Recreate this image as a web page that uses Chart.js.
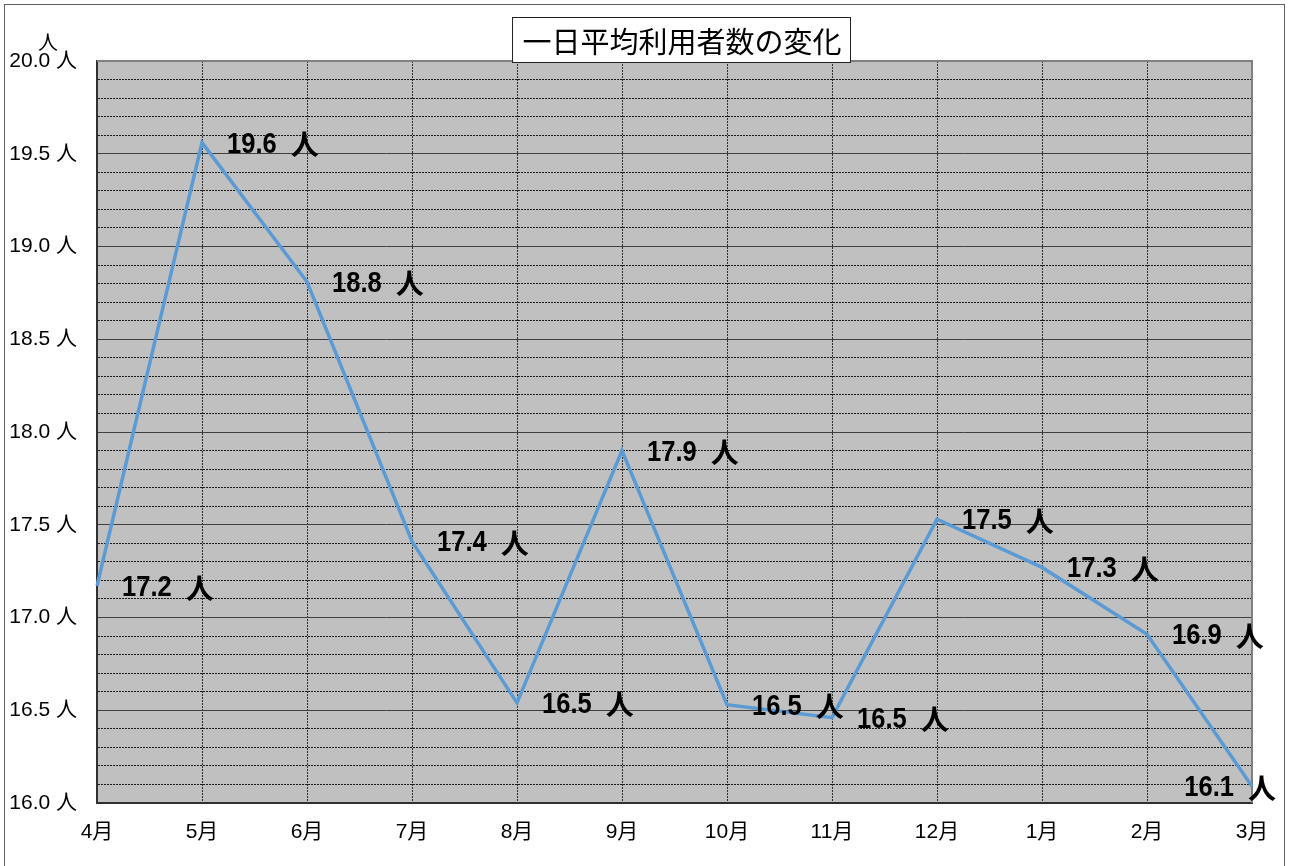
<!DOCTYPE html>
<html lang="ja">
<head>
<meta charset="utf-8">
<title>一日平均利用者数の変化</title>
<script src="https://cdn.jsdelivr.net/npm/chart.js@4/dist/chart.umd.min.js"></script>
<style>
  html, body { margin: 0; padding: 0; background: #ffffff; }
  canvas { display: block; }
</style>
</head>
<body>
<canvas id="chart" width="1290" height="866"></canvas>
<script>
// Monthly average of daily visitors (fiscal year, April to March)
const months = ['4月', '5月', '6月', '7月', '8月', '9月', '10月', '11月', '12月', '1月', '2月', '3月'];
const visitors = [17.17, 19.56, 18.81, 17.41, 16.54, 17.90, 16.53, 16.46, 17.53, 17.27, 16.91, 16.09];
const unit = '人';
const chartTitle = '一日平均利用者数の変化';
const yMin = 16.0;
const yMax = 20.0;
const yMajorStep = 0.5;
const yMinorStep = 0.1;

const latinCjk = '"Liberation Sans", "Noto Sans CJK JP", sans-serif';
const cjk = '"Noto Sans CJK JP", sans-serif';

function isMajor(v) {
  const r = v / yMajorStep;
  return Math.abs(r - Math.round(r)) < 1e-6;
}

// Gray plot background, outer frame, title box and axis unit
const decorations = {
  id: 'decorations',
  beforeDraw(chart) {
    const { ctx, chartArea: a } = chart;
    ctx.save();
    ctx.fillStyle = '#ffffff';
    ctx.fillRect(0, 0, chart.width, chart.height);
    ctx.fillStyle = '#c0c0c0';
    ctx.fillRect(a.left, a.top, a.right - a.left, a.bottom - a.top);
    ctx.restore();
  },
  beforeDatasetsDraw(chart) {
    const { ctx, chartArea: a } = chart;
    ctx.save();
    ctx.strokeStyle = '#808080';
    ctx.lineWidth = 2;
    ctx.beginPath();
    ctx.moveTo(a.left, a.top);
    ctx.lineTo(a.right, a.top);
    ctx.lineTo(a.right, a.bottom);
    ctx.stroke();
    ctx.restore();
  },
  afterDraw(chart) {
    const { ctx } = chart;
    ctx.save();
    // outer frame
    ctx.strokeStyle = '#606060';
    ctx.lineWidth = 1;
    ctx.strokeRect(4.5, 4.5, 1280, 870);
    // title box
    ctx.fillStyle = '#ffffff';
    ctx.fillRect(512, 17, 339, 46);
    ctx.strokeStyle = '#222222';
    ctx.strokeRect(512.5, 17.5, 338, 45);
    ctx.fillStyle = '#000000';
    ctx.font = '29px ' + cjk;
    ctx.textAlign = 'center';
    ctx.textBaseline = 'middle';
    ctx.fillText(chartTitle, 682, 42);
    // y-axis unit
    ctx.font = '20px ' + cjk;
    ctx.fillText(unit, 48, 42);
    ctx.restore();
  }
};

// Value labels beside each point: condensed number, then the unit
const valueLabels = {
  id: 'valueLabels',
  afterDatasetsDraw(chart) {
    const { ctx } = chart;
    const meta = chart.getDatasetMeta(0);
    const values = chart.data.datasets[0].data;
    const numFont = 'bold 29px ' + latinCjk;
    const unitFont = 'bold 28px ' + cjk;
    const squeeze = 0.88;
    const gap = 14;
    ctx.save();
    ctx.fillStyle = '#000000';
    ctx.textAlign = 'left';
    ctx.textBaseline = 'middle';
    meta.data.forEach((pt, i) => {
      const num = values[i].toFixed(1);
      ctx.font = numFont;
      const wNum = ctx.measureText(num).width * squeeze;
      ctx.font = unitFont;
      const wUnit = ctx.measureText(unit).width;
      const total = wNum + gap + wUnit;
      const x = Math.min(pt.x + 25, 1276 - total);
      const y = pt.y + 2;
      ctx.save();
      ctx.translate(x, y);
      ctx.scale(squeeze, 1);
      ctx.font = numFont;
      ctx.fillText(num, 0, 0);
      ctx.restore();
      ctx.font = unitFont;
      ctx.fillText(unit, x + wNum + gap, y);
    });
    ctx.restore();
  }
};

new Chart(document.getElementById('chart'), {
  type: 'line',
  data: {
    labels: months,
    datasets: [{
      data: visitors,
      borderColor: '#5b9bd5',
      borderWidth: 3.5,
      pointRadius: 0,
      pointHoverRadius: 0,
      tension: 0,
      fill: false
    }]
  },
  options: {
    responsive: false,
    animation: false,
    events: [],
    layout: { padding: { top: 61, right: 38, left: 0, bottom: 0 } },
    plugins: {
      legend: { display: false },
      title: { display: false },
      tooltip: { enabled: false }
    },
    scales: {
      x: {
        type: 'category',
        offset: false,
        afterFit(scale) { scale.height = 63; },
        grid: {
          color: '#303030',
          lineWidth: 1,
          drawTicks: false
        },
        border: { display: true, color: '#303030', width: 2, dash: [2, 1] },
        ticks: {
          color: '#000000',
          font: { family: latinCjk, size: 21 },
          padding: 17,
          maxRotation: 0,
          autoSkip: false
        }
      },
      y: {
        min: yMin,
        max: yMax,
        afterFit(scale) { scale.width = 97; },
        grid: {
          color: (c) => (c.tick && isMajor(c.tick.value)) ? '#404040' : '#1a1a1a',
          lineWidth: 1,
          drawTicks: false
        },
        border: {
          display: true,
          color: '#303030',
          width: 2,
          dash: (c) => (c.tick && !isMajor(c.tick.value)) ? [2, 1] : []
        },
        ticks: {
          stepSize: yMinorStep,
          autoSkip: false,
          color: '#000000',
          font: { family: latinCjk, size: 21 },
          padding: 20,
          callback: (v) => isMajor(v) ? Number(v).toFixed(1) + ' ' + unit : ''
        }
      }
    }
  },
  plugins: [decorations, valueLabels]
});
</script>
</body>
</html>
